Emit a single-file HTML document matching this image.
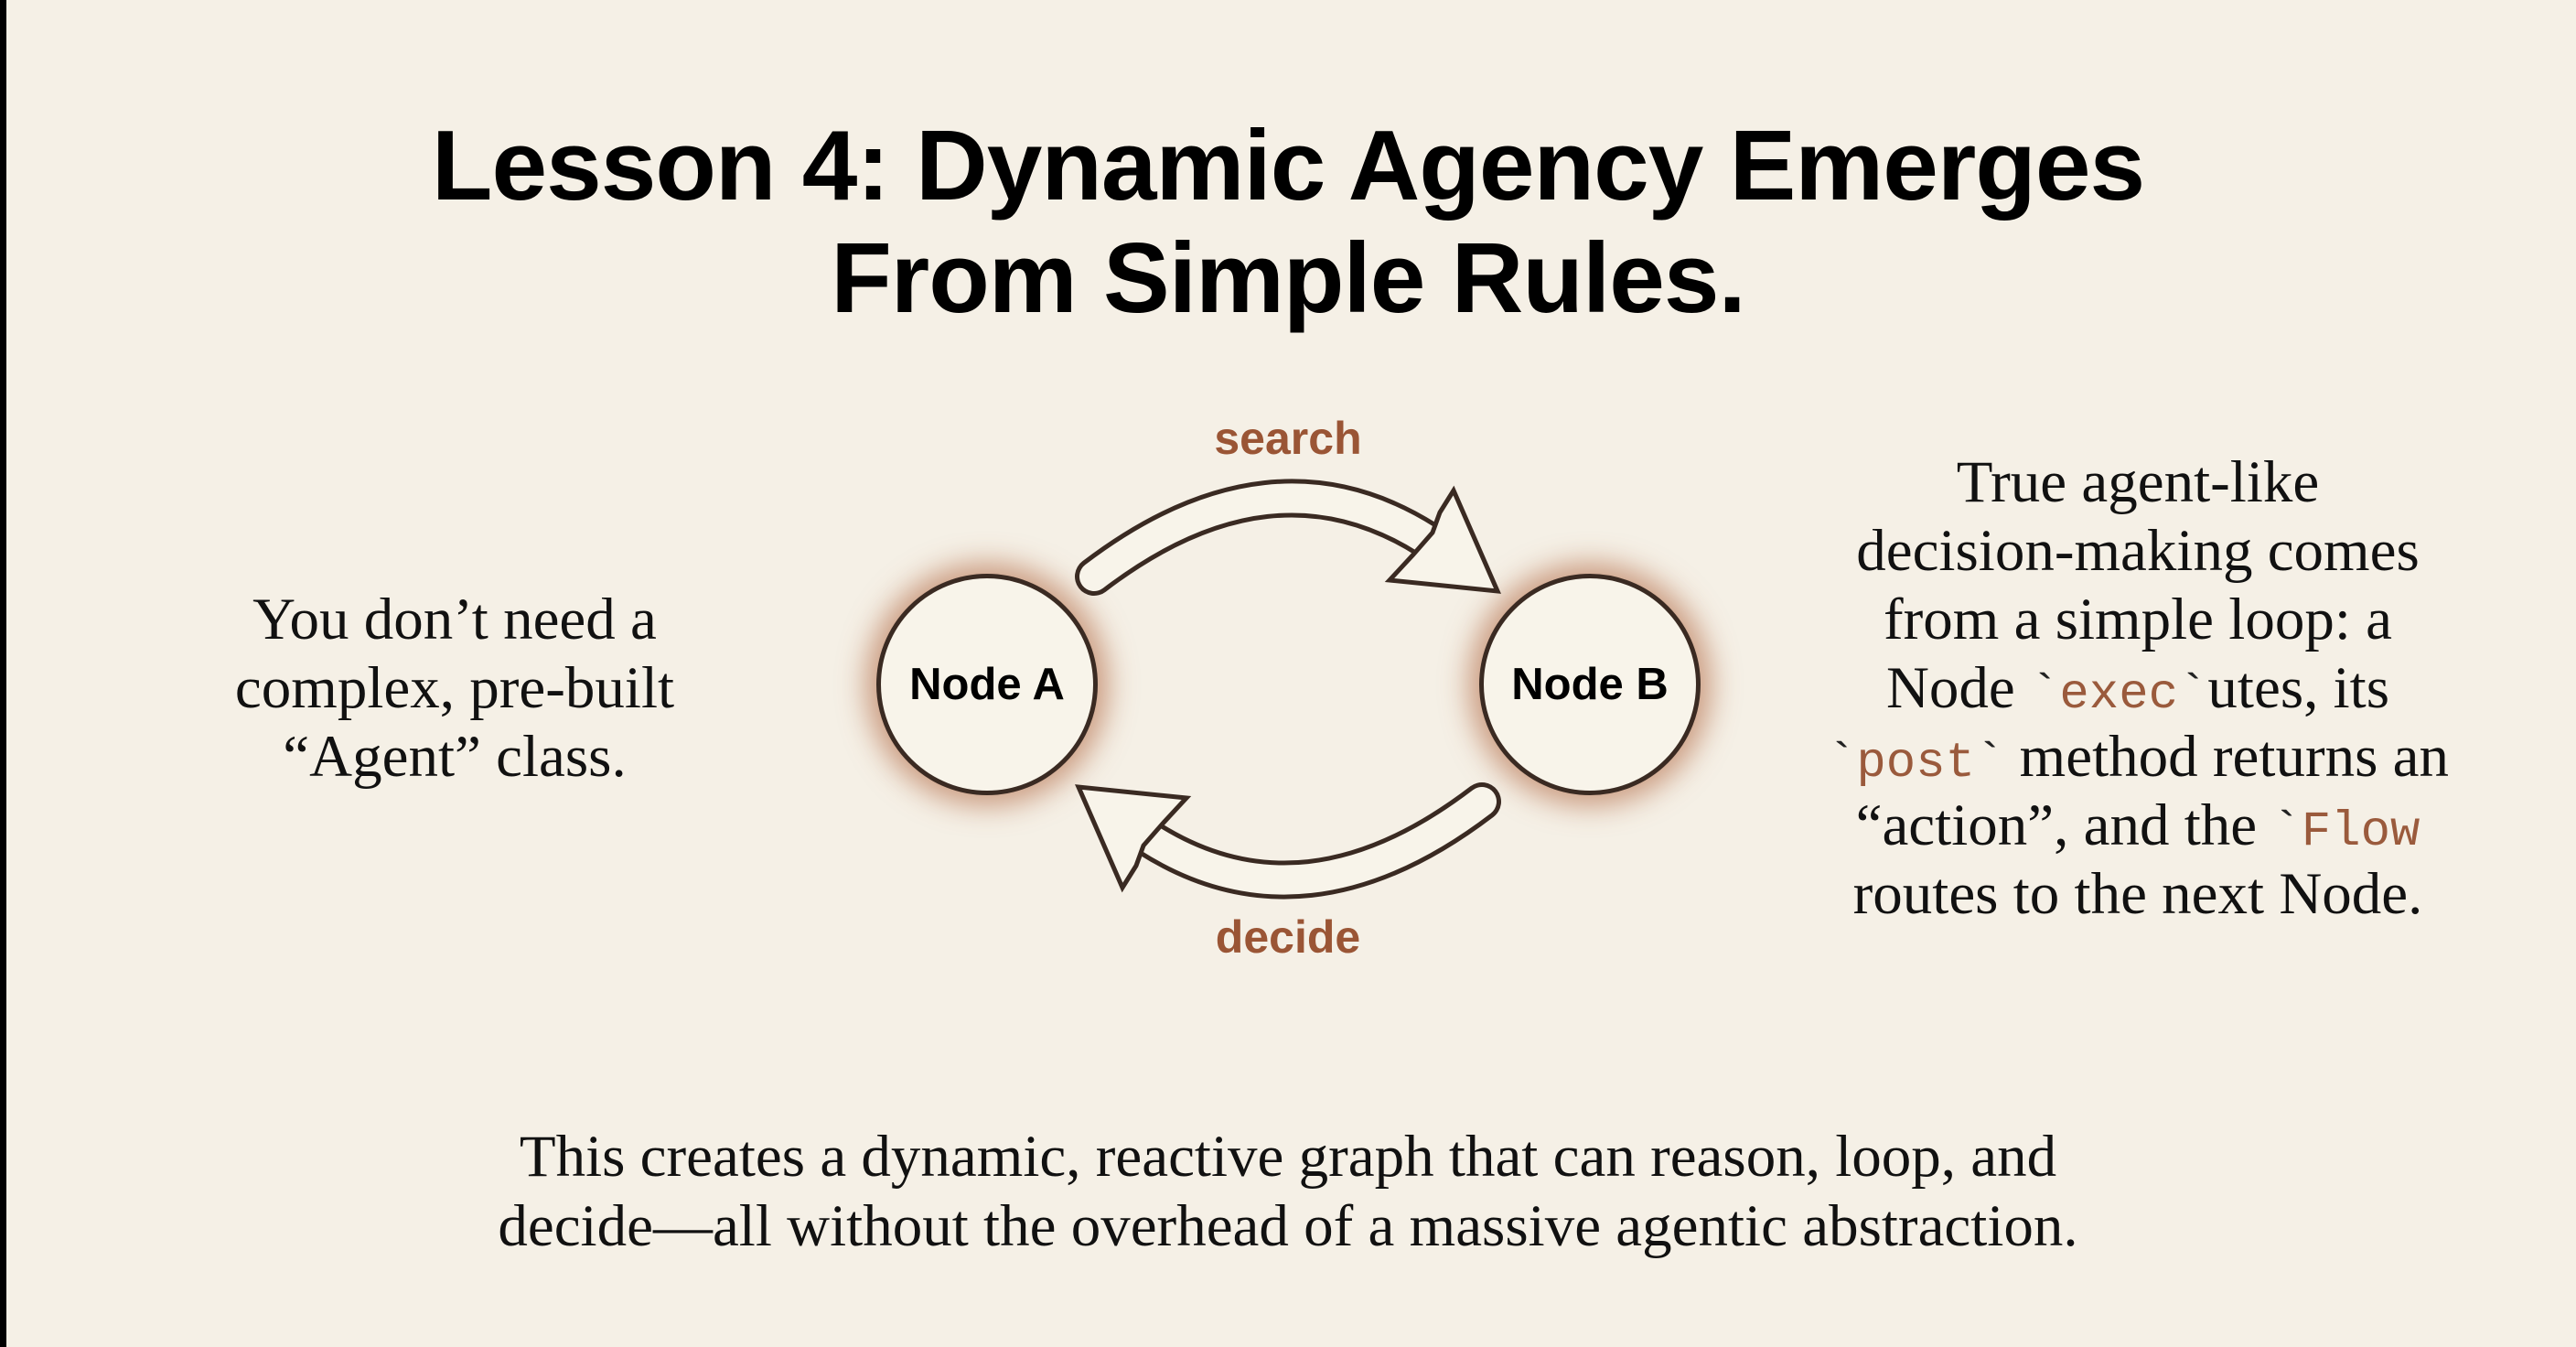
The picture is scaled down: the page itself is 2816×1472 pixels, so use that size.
<!DOCTYPE html>
<html><head><meta charset="utf-8"><style>
html,body{margin:0;padding:0}
body{width:2816px;height:1472px;background:#f5f0e6;position:relative;overflow:hidden}
.bar{position:absolute;left:0;top:0;width:7px;height:1472px;background:#000}
.t{position:absolute;left:0;width:2816px;text-align:center;white-space:nowrap}
.title{font-family:"Liberation Sans",sans-serif;font-weight:bold;font-size:109px;color:#000;letter-spacing:-1px}
.ser{font-family:"Liberation Serif",serif;font-size:65px;color:#111;position:absolute;white-space:nowrap;text-align:center}
.ser div{height:75px;line-height:75px}
.c{font-family:"Liberation Mono",monospace;color:#9a5a3c;font-size:54px;line-height:0}
.bt{font-family:"Liberation Mono",monospace;color:#222;font-size:54px;line-height:0}
.lbl{font-family:"Liberation Sans",sans-serif;font-weight:bold;font-size:50px;color:#9a5535;position:absolute;width:400px;text-align:center}
.node{position:absolute;width:232px;height:232px;border:5px solid #3a2a22;border-radius:50%;background:#f8f4ea;box-shadow:0 0 30px 12px rgba(170,90,50,.55);font-family:"Liberation Sans",sans-serif;font-weight:bold;font-size:49px;display:flex;align-items:center;justify-content:center;color:#000}
</style></head><body>
<div class="bar"></div>
<div class="t title" style="top:118px">Lesson 4: Dynamic Agency Emerges</div>
<div class="t title" style="top:241px">From Simple Rules.</div>

<div class="lbl" style="left:1208px;top:450px">search</div>
<div class="lbl" style="left:1208px;top:995px">decide</div>

<div class="node" style="left:958px;top:627px">Node A</div>
<div class="node" style="left:1617px;top:627px">Node B</div>

<svg width="2816" height="1472" style="position:absolute;left:0;top:0">
<g id="ar">
<path d="M1196 630 Q1390 482 1560 590" fill="none" stroke="#3a2a22" stroke-width="42" stroke-linecap="round"/>
<path d="M1196 630 Q1390 482 1560 590" fill="none" stroke="#f8f4ea" stroke-width="32" stroke-linecap="round"/>
<polygon points="1589,536 1637,646 1519,634 1545,606 1566,582 1574,560" fill="#f8f4ea" stroke="#3a2a22" stroke-width="5" stroke-linejoin="miter"/>
</g>
<use href="#ar" transform="rotate(180 1408 753)"/>
</svg>

<div class="ser" style="left:197px;width:600px;top:640px"><div>You don’t need a</div><div>complex, pre-built</div><div>“Agent” class.</div></div>

<div class="ser" style="left:1937px;width:800px;top:490px"><div>True agent-like</div><div>decision-making comes</div><div>from a simple loop: a</div><div>Node <span class="bt">`</span><span class="c">exec</span><span class="bt">`</span>utes, its</div><div><span class="bt">`</span><span class="c">post</span><span class="bt">`</span> method returns an</div><div>“action”, and the <span class="bt">`</span><span class="c">Flow</span></div><div>routes to the next Node.</div></div>

<div class="ser" style="left:0;width:2816px;top:1226px"><div style="height:76px;line-height:76px">This creates a dynamic, reactive graph that can reason, loop, and</div><div style="height:76px;line-height:76px">decide—all without the overhead of a massive agentic abstraction.</div></div>
</body></html>
